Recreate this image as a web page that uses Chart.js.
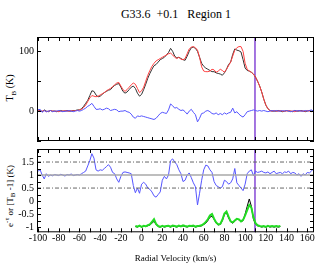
<!DOCTYPE html>
<html>
<head>
<meta charset="utf-8">
<script src="https://cdn.jsdelivr.net/npm/chart.js@4"></script>
<style>
  body { margin: 0; background: #fff; }
  #wrap { position: relative; width: 336px; height: 274px; font-family: 'Liberation Serif', serif; color: #000; }
  canvas { position: absolute; left: 0; }
  #top { top: 0; }
  #bottom { top: 140px; }
  .title { position: absolute; top: 7px; left: 0; width: 352px; text-align: center; font-size: 12px; white-space: pre; }
  .ytitle { position: absolute; white-space: nowrap; transform: translate(-50%, -50%) rotate(-90deg); }
  sub, sup { font-size: 7px; }
</style>
</head>
<body>
<div id="wrap">
  <div class="title">G33.6  +0.1   Region 1</div>
  <div class="ytitle" style="left:11px; top:88px; font-size:10px;">T<sub>B</sub> (K)</div>
  <div class="ytitle" style="left:10px; top:196px; font-size:9px;">e<sup>-τ</sup> or [T<sub>B</sub> -1] (K)</div>
  <canvas id="top" width="336" height="150"></canvas>
  <canvas id="bottom" width="336" height="134"></canvas>
</div>
<script>
// radial velocity channels (km/s)
const velocity = [
  -100, -98, -96, -94, -92, -90, -88, -86, -84, -82, -80, -78, -76, -74, -72, -70, -68, -66, -64, -62,
  -60, -58, -56, -54, -52, -50, -48, -46, -44, -42, -40, -38, -36, -34, -32, -30, -28, -26, -24, -22,
  -20, -18, -16, -14, -12, -10, -8, -6, -4, -2, 0, 2, 4, 6, 8, 10, 12, 14, 16, 18,
  20, 22, 24, 26, 28, 30, 32, 34, 36, 38, 40, 42, 44, 46, 48, 50, 52, 54, 56, 58,
  60, 62, 64, 66, 68, 70, 72, 74, 76, 78, 80, 82, 84, 86, 88, 90, 92, 94, 96, 98,
  100, 102, 104, 106, 108, 110, 112, 114, 116, 118, 120, 122, 124, 126, 128, 130, 132, 134, 136, 138,
  140, 142, 144, 146, 148, 150, 152, 154, 156, 158, 160, 162, 164, 166
]

// top panel: T_B (K)
const tbObserved = [
  2, 1, -1, 2, 0, -1, 1, 0, 0, -1, 0, 1, 0, 0, 1, 0, 0, 1, 1, 2,
  2, 4, 8, 13, 18, 26, 34, 33, 27, 24, 25, 28, 31, 33, 35, 36, 40, 43, 45, 46,
  40, 33, 30, 32, 36, 40, 42, 38, 30, 25, 28, 36, 45, 55, 63, 70, 76, 78, 82, 86,
  88, 90, 94, 98, 105, 100, 92, 89, 90, 88, 86, 85, 92, 100, 106, 107, 105, 100, 90, 80,
  75, 72, 70, 68, 66, 66, 64, 63, 62, 60, 64, 70, 78, 82, 95, 104, 102, 101, 99, 86,
  72, 68, 67, 65, 62, 57, 50, 42, 32, 20, 10, 4, 1, 0, 0, 0, 1, 0, -1, 0,
  1, 0, 0, -1, 1, 0, 0, 1, 0, -1, 0, 1, 0, -1
]
const tbModel = [
  1, 0, 0, 1, -1, 0, 1, 0, 0, 0, -1, 0, 0, 1, 0, 0, 1, 0, 1, 1,
  2, 3, 6, 10, 16, 22, 26, 25, 24, 25, 27, 29, 31, 34, 36, 38, 41, 44, 47, 48,
  42, 36, 33, 36, 40, 44, 47, 45, 38, 31, 34, 40, 50, 60, 68, 75, 80, 84, 86, 88,
  90, 92, 94, 96, 97, 94, 90, 88, 90, 87, 86, 88, 96, 104, 107, 108, 106, 102, 90, 74,
  67, 66, 66, 67, 70, 69, 65, 67, 70, 68, 65, 70, 76, 82, 92, 102, 106, 108, 108, 100,
  80, 70, 67, 65, 62, 57, 50, 42, 32, 20, 10, 4, 1, 0, 1, 0, 0, 1, 0, 0,
  0, 1, 0, 0, -1, 0, 1, 0, 0, 0, 1, 0, -1, 0
]
const tbResidual = [
  2, 3, -2, 1, -1, 0, 1, -1, 0, 0, 1, 0, -1, 0, 0, 1, 0, -1, 0, 1,
  0, 1, 3, 5, 8, 10, 13, 8, 3, 3, 4, 2, 3, 5, 4, 1, 2, 3, 2, -1,
  0, 0, 1, -1, -2, -5, -10, -12, -8, -9, -8, -9, -10, -11, -12, -13, -14, -12, -8, -4,
  -2, -3, -4, 2, 12, 9, 5, 6, 3, 1, 2, -1, -5, 0, 3, -2, -6, -18, -12, -4,
  -3, 0, 1, -1, -4, -5, -3, -6, -4, -6, -3, -5, -3, -2, 5, -3, -1, -5, -8, -10,
  -6, -1, 0, 1, 2, 1, 0, 1, 0, 1, 0, -1, 0, 1, 0, 1, 0, 0, 1, 0,
  1, 0, -1, 0, 1, 0, 1, 0, 0, 1, 0, 1, 2, 0
]

// bottom panel: T_B ratio
const tbRatio = [
  1.15, 1.2, 1.0, 0.85, 1.05, 0.95, 1.0, 0.97, 1.02, 1.0, 0.98, 1.03, 1.0, 0.96, 1.02, 1.0, 1.04, 0.98, 1.0, 1.02,
  1.0, 1.05, 1.1, 1.15, 1.35, 1.55, 1.82, 1.65, 1.2, 1.15, 1.2, 1.18, 1.25, 1.32, 1.4, 1.3, 1.1, 1.05, 0.85, 0.72,
  0.95, 1.1, 1.12, 1.1, 1.08, 1.05, 0.6, 0.32, 0.5, 0.3, 0.65, 0.72, 0.65, 0.5, 0.45, 0.35, 0.2, 0.15, 0.25, 0.35,
  0.8, 0.95, 0.85, 1.0, 1.55, 1.62, 1.5, 1.4, 1.2, 1.05, 0.75, 0.8, 1.0, 1.08, 0.9, 0.7, 0.55, -0.15, 0.3, 0.8,
  1.2, 1.38, 1.35, 1.2, 1.1, 0.75, 0.6, 0.55, 0.5, 0.55, 0.8, 0.75, 0.65, 0.7, 0.85, 1.25, 0.7, 0.6, 0.5, 0.4,
  0.65, 1.05, 1.15, 1.2, 0.98, 1.15, 1.1, 1.12, 1.15, 1.1, 1.08, 1.12, 1.05, 1.1, 1.15, 1.05, 1.08, 1.1, 1.05, 1.12,
  1.1, 1.15, 1.05, 1.1, 1.08, 1.0, 1.05, 0.95, 1.05, 1.0, 1.1, 1.08, 1.15, 1.25
]

// absorption spectrum e^-tau
const absVelocity = [
  -6, -4, -2, 0, 2, 4, 6, 8, 10, 12, 14, 16, 18, 20, 22, 24, 26, 28, 30, 32,
  34, 36, 38, 40, 42, 44, 46, 48, 50, 52, 54, 56, 58, 60, 62, 64, 66, 68, 70, 72,
  74, 76, 78, 80, 82, 84, 86, 88, 90, 92, 94, 96, 98, 100, 102, 104, 106, 108, 110, 112,
  114, 116, 118, 120, 122, 124, 126, 128, 130, 132, 134
]
const absBlack = [
  -0.98, -1.0, -0.96, -1.0, -0.97, -0.98, -0.95, -0.92, -0.85, -0.78, -0.9, -0.98, -1.0, -0.97, -1.0, -0.98, -0.97, -1.0, -0.96, -0.98,
  -1.0, -0.96, -0.98, -0.95, -0.98, -1.0, -0.97, -0.98, -0.96, -1.0, -0.98, -0.97, -0.95, -0.9, -0.85, -0.75, -0.62, -0.58, -0.7, -0.85,
  -0.92, -0.9, -0.75, -0.52, -0.45, -0.65, -0.8, -0.85, -0.78, -0.7, -0.72, -0.8, -0.75, -0.5, -0.2, 0.08, -0.2, -0.7, -0.88, -0.95,
  -0.97, -1.0, -0.98, -1.0, -0.97, -1.0, -0.98, -1.0, -0.98, -1.0, -0.98
]
const absGreen = [
  -0.96, -0.98, -0.94, -0.99, -0.95, -0.97, -0.93, -0.9, -0.8, -0.7, -0.88, -0.96, -0.99, -0.95, -0.98, -0.96, -0.95, -0.98, -0.94, -0.96,
  -0.98, -0.94, -0.97, -0.93, -0.96, -0.98, -0.95, -0.96, -0.94, -0.98, -0.96, -0.95, -0.93, -0.88, -0.8, -0.7, -0.55, -0.5, -0.68, -0.82,
  -0.9, -0.88, -0.72, -0.48, -0.4, -0.6, -0.78, -0.82, -0.75, -0.68, -0.7, -0.78, -0.72, -0.55, -0.35, -0.15, -0.25, -0.62, -0.85, -0.93,
  -0.96, -0.98, -0.96, -0.99, -0.95, -0.98, -0.96, -0.98, -0.96, -0.98, -0.96
]

const refLevels = [0.5, 1, 1.5]
const markerVelocity = 109.5
const XMIN = -101
const XMAX = 166.5

Chart.defaults.font.family = "'Liberation Serif', serif"
Chart.defaults.color = '#000'

function series(xs, ys, color, width) {
  return {
    data: xs.map((v, i) => ({ x: v, y: ys[i] })),
    borderColor: color, borderWidth: width, pointRadius: 0, tension: 0, fill: false
  }
}

function marker(ymin, ymax) {
  return series([markerVelocity, markerVelocity], [ymin, ymax], '#9a66dd', 1.8)
}

function range(a, b, step) {
  const out = []
  for (let v = a; v <= b + 1e-9; v += step) out.push(+v.toFixed(3))
  return out
}

// frame with inward ticks on all four sides
const frame = {
  id: 'frame',
  afterDatasetsDraw(chart, args, opts) {
    const { ctx, chartArea: a, scales: { x, y } } = chart
    const L = 4
    ctx.save()
    ctx.strokeStyle = '#000'
    ctx.lineWidth = 1
    ctx.beginPath()
    opts.xTicks.forEach(v => {
      const px = Math.round(x.getPixelForValue(v)) + 0.5
      ctx.moveTo(px, a.top); ctx.lineTo(px, a.top + L)
      ctx.moveTo(px, a.bottom); ctx.lineTo(px, a.bottom - L)
    })
    opts.yTicks.forEach(v => {
      const py = Math.round(y.getPixelForValue(v)) + 0.5
      ctx.moveTo(a.left, py); ctx.lineTo(a.left + L, py)
      ctx.moveTo(a.right, py); ctx.lineTo(a.right - L, py)
    })
    ctx.stroke()
    ctx.strokeRect(a.left + 0.5, a.top + 0.5, a.width - 1, a.height - 1)
    ctx.restore()
  }
}

const topY = { min: -50, max: 124 }
const botY = { min: -1.2, max: 2.0 }
const noGrid = { display: false, drawTicks: false }

new Chart(document.getElementById('top'), {
  type: 'line',
  data: {
    datasets: [
      series(velocity, tbResidual, '#5555ff', 1),
      series(velocity, tbModel, '#ff4040', 1),
      series(velocity, tbObserved, '#333333', 1),
      marker(topY.min, topY.max)
    ]
  },
  options: {
    responsive: false,
    animation: false,
    layout: { padding: { top: 37, right: 22, bottom: 1, left: 0 } },
    plugins: {
      legend: { display: false },
      tooltip: { enabled: false },
      frame: { xTicks: range(-100, 160, 10), yTicks: [-50, 0, 50, 100] }
    },
    scales: {
      x: { type: 'linear', min: XMIN, max: XMAX, display: false },
      y: {
        min: topY.min, max: topY.max,
        afterFit(s) { s.width = 37 },
        afterBuildTicks(s) { s.ticks = [0, 100].map(v => ({ value: v })) },
        grid: noGrid,
        border: { display: false },
        ticks: { font: { size: 10 }, padding: 3 }
      }
    }
  },
  plugins: [frame]
})

new Chart(document.getElementById('bottom'), {
  type: 'line',
  data: {
    datasets: [
      series([XMIN, XMAX], [refLevels[1], refLevels[1]], '#a8a8a8', 1.5),
      Object.assign(series([XMIN, XMAX], [refLevels[2], refLevels[2]], '#666', 1), { borderDash: [4, 2, 1, 2] }),
      Object.assign(series([XMIN, XMAX], [refLevels[0], refLevels[0]], '#666', 1), { borderDash: [4, 2, 1, 2] }),
      series(velocity, tbRatio, '#5555ff', 1),
      series(absVelocity, absGreen, '#22dd22', 2),
      series(absVelocity, absBlack, '#000', 1),
      marker(botY.min, botY.max)
    ]
  },
  options: {
    responsive: false,
    animation: false,
    layout: { padding: { top: 9, right: 22, bottom: 0, left: 0 } },
    plugins: {
      legend: { display: false },
      tooltip: { enabled: false },
      frame: { xTicks: range(-100, 160, 10), yTicks: range(-1, 2, 0.25) }
    },
    scales: {
      x: {
        type: 'linear', min: XMIN, max: XMAX,
        afterFit(s) { s.height = 41.7 },
        afterBuildTicks(s) { s.ticks = range(-100, 160, 20).map(v => ({ value: v })) },
        grid: noGrid,
        border: { display: false },
        ticks: { font: { size: 10 }, padding: 0, maxRotation: 0, autoSkip: false, callback: v => String(v) },
        title: { display: true, text: 'Radial Velocity (km/s)', font: { size: 9 }, padding: { top: 0, bottom: 10 } }
      },
      y: {
        min: botY.min, max: botY.max,
        afterFit(s) { s.width = 37 },
        afterBuildTicks(s) { s.ticks = [-1, -0.5, 0, 0.5, 1, 1.5].map(v => ({ value: v })) },
        grid: noGrid,
        border: { display: false },
        ticks: { font: { size: 10 }, padding: 3, callback: v => String(v) }
      }
    }
  },
  plugins: [frame]
})
</script>
</body>
</html>
